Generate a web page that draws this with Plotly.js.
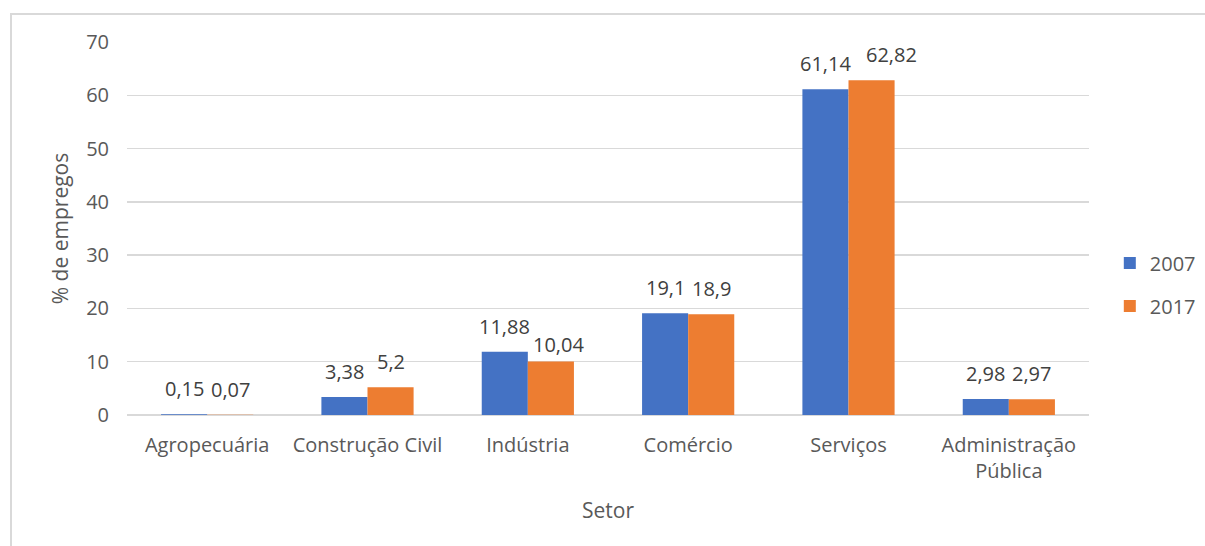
<!DOCTYPE html>
<html>
<head>
<meta charset="utf-8">
<script src="https://cdn.plot.ly/plotly-3.0.1.min.js"></script>
<style>
html,body{margin:0;padding:0;background:#fff;}
#frame{position:absolute;left:10px;top:13px;width:1300px;height:700px;border:2px solid #d9d9d9;box-sizing:border-box;}
#chart{position:absolute;left:0;top:0;width:1205px;height:546px;}
</style>
</head>
<body>
<div id="frame"></div>
<div id="chart"></div>
<script>
const categories = ["Agropecuária", "Construção Civil", "Indústria", "Comércio", "Serviços", "Administração<br>Pública"];
const values2007 = [0.15, 3.38, 11.88, 19.1, 61.14, 2.98];
const values2017 = [0.07, 5.2, 10.04, 18.9, 62.82, 2.97];
const seriesNames = ["2007", "2017"];
const yTicks = [0, 10, 20, 30, 40, 50, 60, 70];

const fmt = v => String(v).replace('.', ',');
const FONT = 'Open Sans, Noto Sans, sans-serif';
const GRAY = '#595959';
const labelFont = {family: FONT, size: 20, color: '#404040'};

const traces = [
  {type: 'bar', name: seriesNames[0], x: categories, y: values2007,
   marker: {color: '#4472c4'}, legendgroup: 'a', hoverinfo: 'none'},
  {type: 'bar', name: seriesNames[1], x: categories, y: values2017,
   marker: {color: '#ed7d31'}, legendgroup: 'b', hoverinfo: 'none'}
];

// data labels as annotations tied to the data coordinates (style offsets in px)
const groupHalf = 23;
const nudge2007 = [[0, 0], [0, 0], [0, 0], [0, 0], [0, 0], [0, 0]];
const nudge2017 = [[0, 0], [0, 0], [8, -8], [0, 0], [20, 0], [0, 0]];
const annotations = [];
[[values2007, -groupHalf, nudge2007], [values2017, groupHalf, nudge2017]].forEach(([vals, dx, nudge]) => {
  vals.forEach((v, i) => {
    annotations.push({
      xref: 'x', yref: 'y', x: categories[i], y: v,
      xshift: dx + nudge[i][0], yshift: 10 + nudge[i][1],
      xanchor: 'center', yanchor: 'bottom', showarrow: false,
      text: fmt(v), font: labelFont
    });
  });
});

const layout = {
  width: 1205, height: 546,
  paper_bgcolor: 'rgba(0,0,0,0)', plot_bgcolor: 'rgba(0,0,0,0)',
  margin: {l: 127, r: 116, t: 42, b: 131, autoexpand: false},
  barmode: 'group', bargap: 0.425, bargroupgap: 0,
  font: {family: FONT, size: 20, color: GRAY},
  annotations: annotations,
  xaxis: {
    type: 'category', showgrid: false, showline: false, ticks: '',
    tickfont: {family: FONT, size: 20, color: GRAY},
    title: {text: 'Setor', font: {family: FONT, size: 21, color: GRAY}, standoff: 20},
    ticklabelstandoff: 16
  },
  yaxis: {
    range: [0, 70], tickvals: yTicks, ticktext: yTicks.map(String),
    showgrid: true, gridcolor: '#d9d9d9', gridwidth: 1.5,
    zeroline: true, zerolinecolor: '#d9d9d9', zerolinewidth: 1.5,
    showline: false, ticks: '',
    tickfont: {family: FONT, size: 20, color: GRAY},
    title: {text: '% de empregos', font: {family: FONT, size: 21, color: GRAY}, standoff: 11},
    ticklabelstandoff: 17
  },
  showlegend: true,
  legend: {xref: 'container', x: 0.921, xanchor: 'left', y: 0.35, yanchor: 'middle', traceorder: 'grouped',
           tracegroupgap: 14, font: {family: FONT, size: 20, color: GRAY},
           itemwidth: 30}
};

Plotly.newPlot('chart', traces, layout, {displayModeBar: false, staticPlot: true});
</script>
</body>
</html>
